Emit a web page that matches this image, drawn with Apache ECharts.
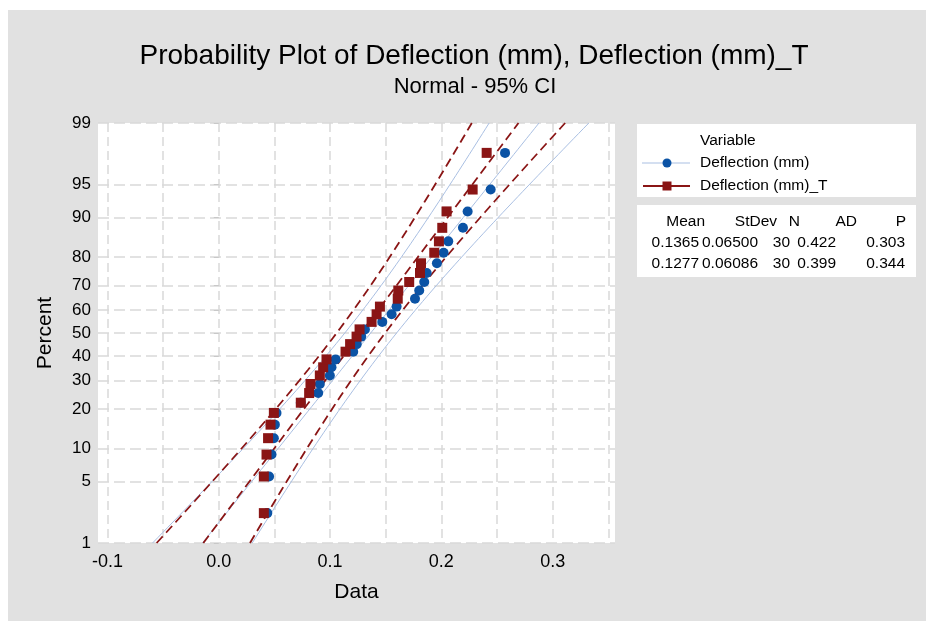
<!DOCTYPE html>
<html><head><meta charset="utf-8">
<script src="https://cdn.jsdelivr.net/npm/echarts@6/dist/echarts.min.js"></script>
<style>
html,body{margin:0;padding:0;background:#fff;}
#c{width:926px;height:621px;background:linear-gradient(#e1e1e1,#e1e1e1) no-repeat 8px 10px/918px 611px,#fff;}
</style></head><body><div id="c"></div>
<script>
// ---- data ----
const percentTicks = [1, 5, 10, 20, 30, 40, 50, 60, 70, 80, 90, 95, 99];
const xTickValues = [-0.1, -0.05, 0, 0.05, 0.1, 0.15, 0.2, 0.25, 0.3, 0.35];
const xLabelValues = [-0.1, 0, 0.1, 0.2, 0.3];
const plotPercents = [2.3, 5.6, 8.9, 12.2, 15.5, 18.8, 22.0, 25.3, 28.6, 31.9, 35.2, 38.5, 41.8, 45.1, 48.4,
                      51.6, 54.9, 58.2, 61.5, 64.8, 68.1, 71.4, 74.7, 78.0, 81.3, 84.5, 87.8, 91.1, 94.4, 97.7];
const deflection = [0.0436, 0.0452, 0.0474, 0.0495, 0.0504, 0.0519, 0.0737, 0.0893, 0.0908, 0.0998,
                    0.1013, 0.1050, 0.1208, 0.1240, 0.1280, 0.1313, 0.1469, 0.1553, 0.1598, 0.1763,
                    0.1801, 0.1846, 0.1868, 0.1960, 0.2020, 0.2062, 0.2194, 0.2236, 0.2443, 0.2572];
const deflectionT = [0.0405, 0.0405, 0.0429, 0.0443, 0.0465, 0.0495, 0.0737, 0.0812, 0.0824, 0.0908,
                     0.0938, 0.0968, 0.1139, 0.1180, 0.1238, 0.1265, 0.1373, 0.1418, 0.1448, 0.1608,
                     0.1613, 0.1711, 0.1808, 0.1817, 0.1936, 0.1978, 0.2008, 0.2047, 0.2281, 0.2407];
const seriesNames = ['Deflection (mm)', 'Deflection (mm)_T'];
const statHeaders = ['Mean', 'StDev', 'N', 'AD', 'P'];
const statMean = [0.1365, 0.1277];
const statStDev = [0.06500, 0.06086];
const statN = [30, 30];
const statMeanText = ['0.1365', '0.1277'];
const statStDevText = ['0.06500', '0.06086'];
const statADText = ['0.422', '0.399'];
const statPText = ['0.303', '0.344'];
const ciLevel = 0.95;

// inverse standard normal CDF (Acklam)
function normInv(p) {
  const a = [-3.969683028665376e+01, 2.209460984245205e+02, -2.759285104469687e+02, 1.383577518672690e+02, -3.066479806614716e+01, 2.506628277459239e+00];
  const b = [-5.447609879822406e+01, 1.615858368580409e+02, -1.556989798598866e+02, 6.680131188771972e+01, -1.328068155288572e+01];
  const c = [-7.784894002430293e-03, -3.223964580411365e-01, -2.400758277161838e+00, -2.549732539343734e+00, 4.374664141464968e+00, 2.938163982698783e+00];
  const d = [7.784695709041462e-03, 3.224671290700398e-01, 2.445134137142996e+00, 3.754408661907416e+00];
  const pl = 0.02425, ph = 1 - pl;
  let q, r;
  if (p < pl) { q = Math.sqrt(-2 * Math.log(p)); return (((((c[0]*q+c[1])*q+c[2])*q+c[3])*q+c[4])*q+c[5]) / ((((d[0]*q+d[1])*q+d[2])*q+d[3])*q+1); }
  if (p <= ph) { q = p - 0.5; r = q*q; return (((((a[0]*r+a[1])*r+a[2])*r+a[3])*r+a[4])*r+a[5])*q / (((((b[0]*r+b[1])*r+b[2])*r+b[3])*r+b[4])*r+1); }
  q = Math.sqrt(-2 * Math.log(1 - p)); return -(((((c[0]*q+c[1])*q+c[2])*q+c[3])*q+c[4])*q+c[5]) / ((((d[0]*q+d[1])*q+d[2])*q+d[3])*q+1);
}
const zOf = pct => normInv(pct / 100);
const zTicks = percentTicks.map(zOf);
const zMin = zTicks[0], zMax = zTicks[zTicks.length - 1];
const zc = normInv(1 - (1 - ciLevel) / 2);

// fitted line and 95% CI bands from the displayed Mean / StDev / N
function fitLines(k) {
  const m = statMean[k], s = statStDev[k], n = statN[k];
  const fit = [], lo = [], hi = [];
  const steps = 80;
  for (let i = 0; i <= steps; i++) {
    const z = zMin + (zMax - zMin) * i / steps;
    const x = m + z * s;
    const hw = zc * s * Math.sqrt(1 / n + z * z / (2 * n));
    fit.push([x, z]); lo.push([x - hw, z]); hi.push([x + hw, z]);
  }
  return [lo, fit, hi];
}
const BLUE = '#0b53a5', RED = '#8a1515', BLUE_LINE = '#a9bfe2';
const blueLines = fitLines(0), redLines = fitLines(1);

const series = [];
blueLines.forEach(d => series.push({ type: 'line', data: d, symbol: 'none', silent: true, z: 2,
  lineStyle: { color: BLUE_LINE, width: 1 } }));
redLines.forEach(d => series.push({ type: 'line', data: d, symbol: 'none', silent: true, z: 3,
  lineStyle: { color: RED, width: 1.8, type: [9, 5] } }));
series.push({ type: 'scatter', name: seriesNames[0], symbol: 'circle', symbolSize: 10, z: 4,
  itemStyle: { color: BLUE, opacity: 1 }, data: deflection.map((v, i) => [v, zOf(plotPercents[i])]) });
series.push({ type: 'scatter', name: seriesNames[1], symbol: 'rect', symbolSize: 10, z: 5,
  itemStyle: { color: RED, opacity: 1 }, data: deflectionT.map((v, i) => [v, zOf(plotPercents[i])]) });

const FONT = 'Liberation Sans';
const txt = (text, x, y, size, align) => ({ type: 'text', silent: true,
  style: { text: text, x: x, y: y, align: align || 'left', verticalAlign: 'middle', font: size + 'px "Liberation Sans"', fill: '#000' } });
const graphics = [
  txt('Probability Plot of Deflection (mm), Deflection (mm)_T', 474, 56, 28, 'center'),
  txt('Normal - 95% CI', 475, 87, 22, 'center'),
  { type: 'rect', silent: true, shape: { x: 637, y: 124, width: 279, height: 73 }, style: { fill: '#fff' } },
  txt('Variable', 700, 141, 15.5),
  { type: 'line', silent: true, shape: { x1: 642, y1: 163, x2: 690, y2: 163 }, style: { stroke: BLUE_LINE, lineWidth: 1 } },
  { type: 'circle', silent: true, shape: { cx: 667, cy: 163, r: 4.5 }, style: { fill: BLUE } },
  txt(seriesNames[0], 700, 163, 15.5),
  { type: 'line', silent: true, shape: { x1: 643, y1: 186, x2: 690, y2: 186 }, style: { stroke: RED, lineWidth: 1.8 } },
  { type: 'rect', silent: true, shape: { x: 662.5, y: 181.5, width: 9, height: 9 }, style: { fill: RED } },
  txt(seriesNames[1], 700, 186, 15.5),
  { type: 'rect', silent: true, shape: { x: 637, y: 205, width: 279, height: 72 }, style: { fill: '#fff' } }
];
const colRight = [705, 777, 800, 857, 906];
const valRight = [699, 758, 790, 836, 905];
statHeaders.forEach((h, j) => graphics.push(txt(h, colRight[j], 222, 15.5, 'right')));
[0, 1].forEach(k => {
  const row = [statMeanText[k], statStDevText[k], String(statN[k]), statADText[k], statPText[k]];
  row.forEach((t, j) => graphics.push(txt(t, valRight[j], 243 + k * 21, 15.5, 'right')));
});

const chart = echarts.init(document.getElementById('c'), null, { renderer: 'canvas' });
chart.setOption({
  backgroundColor: 'transparent',
  animation: false,
  grid: { left: 98, top: 123, right: 311, bottom: 78, show: true, backgroundColor: '#fff', borderWidth: 0, containLabel: false },
  xAxis: {
    type: 'value', min: -0.1085, max: 0.356,
    name: 'Data', nameLocation: 'middle', nameGap: 39,
    nameTextStyle: { fontFamily: FONT, fontSize: 21, color: '#000' },
    axisLine: { show: false },
    axisTick: { show: false, customValues: xTickValues },
    axisLabel: { customValues: xLabelValues, formatter: v => v.toFixed(1), fontFamily: FONT, fontSize: 18, color: '#000', margin: 10 },
    splitLine: { show: true, lineStyle: { color: '#d9d9d9', width: 1.5, type: [9, 5] } }
  },
  yAxis: {
    type: 'value', min: zMin, max: zMax,
    name: 'Percent', nameLocation: 'middle', nameGap: 42, nameRotate: 90,
    nameTextStyle: { fontFamily: FONT, fontSize: 21, color: '#000' },
    axisLine: { show: false },
    axisTick: { show: true, length: 5, customValues: zTicks, lineStyle: { color: '#c8c8c8' } },
    axisLabel: { customValues: zTicks, fontFamily: FONT, fontSize: 17, color: '#000', margin: 7,
      formatter: v => { let best = percentTicks[0], bd = 1e9; percentTicks.forEach((p, i) => { const d = Math.abs(zTicks[i] - v); if (d < bd) { bd = d; best = p; } }); return String(best); } },
    splitLine: { show: true, lineStyle: { color: '#d9d9d9', width: 1.5, type: [11, 5] } }
  },
  series: series,
  graphic: graphics
});
</script></body></html>
